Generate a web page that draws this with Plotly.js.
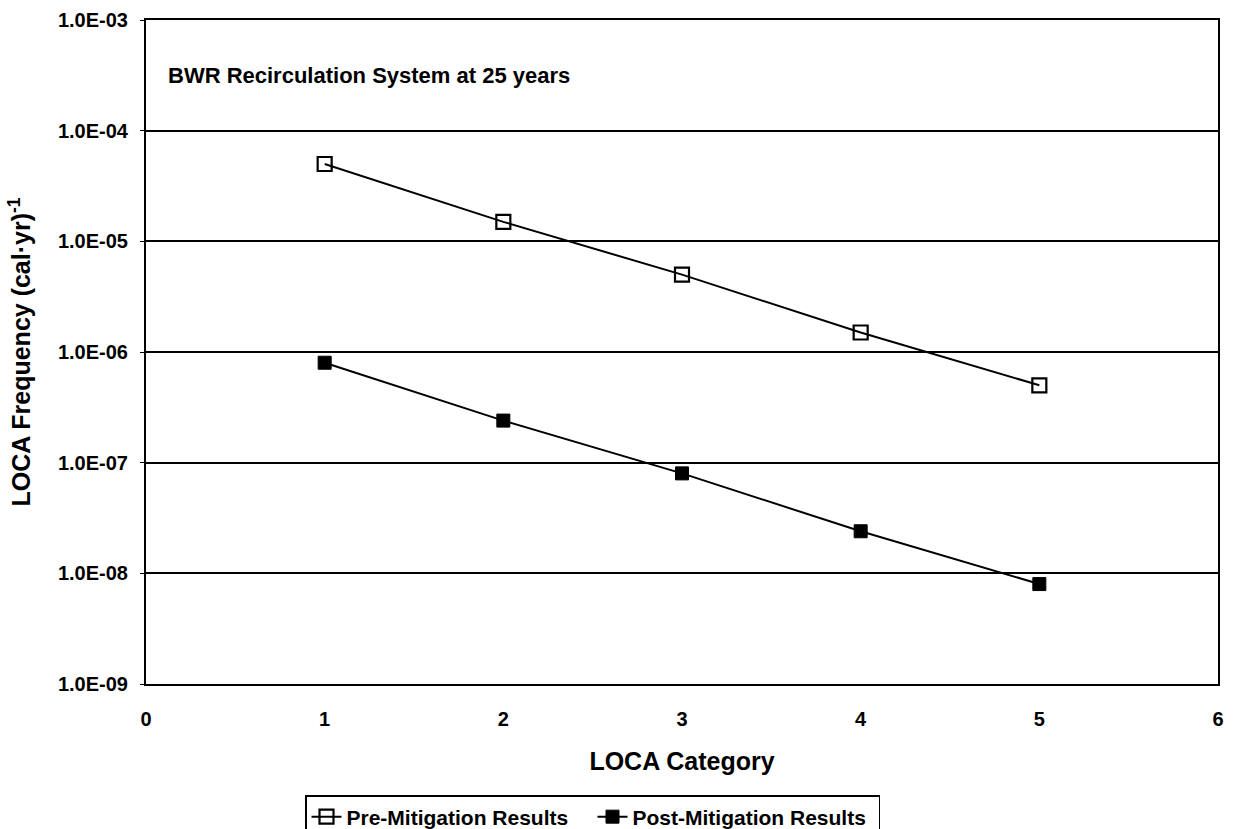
<!DOCTYPE html>
<html>
<head>
<meta charset="utf-8">
<script src="https://cdn.plot.ly/plotly-3.0.1.min.js"></script>
<style>html,body{margin:0;padding:0;background:#fff;overflow:hidden;}#chart{width:1236px;height:829px;}</style>
</head>
<body>
<div id="chart"></div>
<script>
const categories = [1, 2, 3, 4, 5];
const preMitigation = [5.0e-5, 1.5e-5, 5.0e-6, 1.5e-6, 5.0e-7];
const postMitigation = [8.0e-7, 2.4e-7, 8.0e-8, 2.4e-8, 8.0e-9];
const yTickVals = [1e-9, 1e-8, 1e-7, 1e-6, 1e-5, 1e-4, 1e-3];
const yTickText = ["1.0E-09", "1.0E-08", "1.0E-07", "1.0E-06", "1.0E-05", "1.0E-04", "1.0E-03"];
const xTickVals = [0, 1, 2, 3, 4, 5, 6];

const F = "Arial, 'Liberation Sans', sans-serif";

const traces = [
  {
    x: categories, y: preMitigation, name: "Pre-Mitigation Results",
    type: "scatter", mode: "lines+markers",
    line: {color: "#000", width: 2},
    marker: {symbol: "square-open", size: 14, color: "#000", line: {width: 2.2, color: "#000"}}
  },
  {
    x: categories, y: postMitigation, name: "Post-Mitigation Results",
    type: "scatter", mode: "lines+markers",
    line: {color: "#000", width: 2},
    marker: {symbol: "square", size: 13, color: "#000", line: {width: 1, color: "#000"}}
  }
];

const layout = {
  width: 1236, height: 829,
  margin: {l: 146, r: 18, t: 20, b: 145, autoexpand: false},
  paper_bgcolor: "#fff", plot_bgcolor: "#fff",
  font: {family: F, color: "#000"},
  showlegend: true,
  legend: {
    orientation: "h", xref: "container", yref: "container",
    x: 305 / 1236, xanchor: "left", y: (829 - 795) / 829, yanchor: "top",
    bordercolor: "#000", borderwidth: 1.5, bgcolor: "#fff",
    font: {family: F, size: 21, color: "#000", weight: "bold"},
    entrywidth: 241, tracegroupgap: 0
  },
  xaxis: {
    range: [0, 6], tickvals: xTickVals, ticktext: xTickVals.map(String),
    showgrid: false, zeroline: false,
    showline: true, linecolor: "#000", linewidth: 2, mirror: true,
    ticks: "", ticklabelstandoff: 16,
    tickfont: {family: F, size: 20, weight: "bold"},
    title: {text: "LOCA Category", font: {family: F, size: 25, weight: "bold"}, standoff: 23}
  },
  yaxis: {
    type: "log", range: [-9, -3], tickvals: yTickVals, ticktext: yTickText,
    showgrid: true, gridcolor: "#000", gridwidth: 2,
    zeroline: false, showline: true, linecolor: "#000", linewidth: 2, mirror: true,
    ticks: "outside", ticklen: 4, tickcolor: "#000", ticklabelstandoff: 8,
    tickfont: {family: F, size: 20, weight: "bold"},
    title: {text: "LOCA Frequency (cal·yr)<sup>-1</sup>", font: {family: F, size: 25, weight: "bold"}, standoff: 20}
  },
  annotations: [{
    text: "BWR Recirculation System at 25 years",
    xref: "paper", yref: "paper", x: 0.0187, y: 0.917, xanchor: "left", yanchor: "middle",
    showarrow: false, font: {family: F, size: 22, color: "#000", weight: "bold"}
  }]
};

Plotly.newPlot("chart", traces, layout, {displayModeBar: false, staticPlot: true});
</script>
</body>
</html>
